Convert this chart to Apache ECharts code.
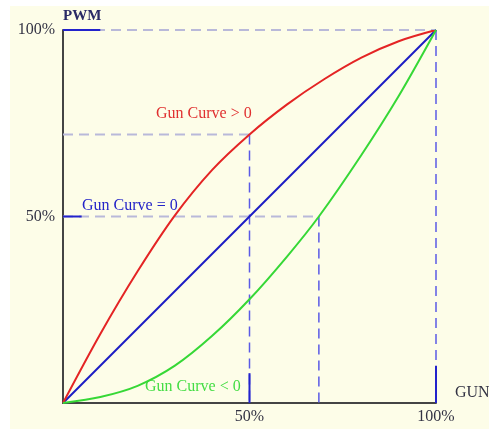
<!DOCTYPE html>
<html><head><meta charset="utf-8">
<script src="https://cdn.jsdelivr.net/npm/echarts@6/dist/echarts.min.js"></script>
<style>html,body{margin:0;padding:0;background:#fff}#c{width:489px;height:429px}</style>
</head><body><div id="c"></div>
<script>
// Data (percent of GUN -> percent of PWM)
const curvePos = [[0,0],[10,18.5],[20,35.3],[30,50.3],[40,62.5],[50,72],[60,80],[70,86.8],[80,92.6],[90,97],[100,100]];
const curveZero = [[0,0],[100,100]];
const curveNeg = [[0,0],[10,1.6],[20,4.6],[30,10],[40,18],[50,27.8],[60,39.2],[68.6,50],[80,66.5],[90,82.3],[100,100]];
const xTickLabels = {50:'50%',100:'100%'};
const yTickLabels = {50:'50%',100:'100%'};
const guideGray = [[[0,100],[100,100]],[[0,72],[50,72]],[[0,50],[68.6,50]]];
const guideBlueDash = [[[50,72],[50,0]],[[68.6,50],[68.6,0]],[[100,100],[100,0]]];
const guideBlueSolid = [[[0,100],[10,100]],[[0,50],[5,50]],[[50,0],[50,8]],[[100,0],[100,10]]];
const labels = ['Gun Curve > 0','Gun Curve = 0','Gun Curve < 0'];

const font = '"Liberation Serif","DejaVu Serif",serif';
const series = [];
guideGray.forEach(d=>series.push({type:'line',data:d,symbol:'none',silent:true,z:1,
  lineStyle:{color:'#b9b9d9',width:2,type:[10,6]}}));
guideBlueDash.forEach(d=>series.push({type:'line',data:d,symbol:'none',silent:true,z:1,
  lineStyle:{color:'#5a5ae6',width:1.5,type:[10,6]}}));
guideBlueSolid.forEach(d=>series.push({type:'line',data:d,symbol:'none',silent:true,z:2,
  lineStyle:{color:'#2222cc',width:2}}));
series.push({type:'line',data:curveZero,symbol:'none',z:3,lineStyle:{color:'#1c1cc4',width:2}});
series.push({type:'line',data:curvePos,symbol:'none',smooth:0.3,z:3,lineStyle:{color:'#e42424',width:2}});
series.push({type:'line',data:curveNeg,symbol:'none',smooth:0.3,z:3,lineStyle:{color:'#36d836',width:2}});

const chart = echarts.init(document.getElementById('c'));
chart.setOption({
  backgroundColor:'#ffffff',
  animation:false,
  grid:{left:63,right:53,top:30,bottom:26},
  xAxis:{type:'value',min:0,max:100,interval:50,splitLine:{show:false},axisTick:{show:false},
    axisLine:{lineStyle:{color:'#444',width:2}},
    axisLabel:{margin:6,fontFamily:font,fontSize:16,color:'#333344',formatter:v=>xTickLabels[v]||''}},
  yAxis:{type:'value',min:0,max:100,interval:50,splitLine:{show:false},axisTick:{show:false},
    axisLine:{lineStyle:{color:'#444',width:2}},
    axisLabel:{margin:8,fontFamily:font,fontSize:16,color:'#333344',formatter:v=>yTickLabels[v]||''}},
  graphic:[
    {type:'rect',left:10,top:6,z:-10,shape:{width:479,height:423},style:{fill:'#fdfde8'}},
    {type:'text',left:63,top:9,style:{text:'PWM',font:'bold 15px '+font,fill:'#2a2a66'}},
    {type:'text',left:455,top:385,style:{text:'GUN',font:'16px '+font,fill:'#333344'}},
    {type:'text',left:156,top:106,style:{text:labels[0],font:'16px '+font,fill:'#e03030'}},
    {type:'text',left:82,top:198,style:{text:labels[1],font:'16px '+font,fill:'#2424c8'}},
    {type:'text',left:145,top:379,style:{text:labels[2],font:'16px '+font,fill:'#44dd44'}}
  ],
  series
});
</script></body></html>
